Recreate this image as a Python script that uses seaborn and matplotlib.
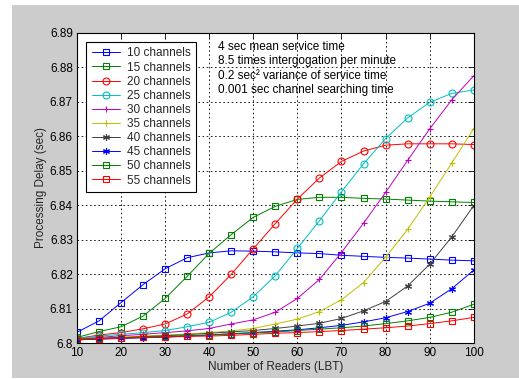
import matplotlib
matplotlib.use("Agg")
import matplotlib.pyplot as plt
import seaborn as sns
import numpy as np
from matplotlib.patches import Rectangle

readers = [10, 15, 20, 25, 30, 35, 40, 45, 50, 55, 60, 65, 70, 75, 80, 85, 90, 95, 100]

ch10 = [6.8032, 6.8065, 6.8118, 6.8170, 6.8216, 6.8248, 6.8262, 6.8268, 6.8267, 6.8265,
        6.8262, 6.8260, 6.8255, 6.8252, 6.8249, 6.8247, 6.8244, 6.8241, 6.8239]
ch15 = [6.8017, 6.8034, 6.8048, 6.8079, 6.8130, 6.8194, 6.8261, 6.8315, 6.8365, 6.8397,
        6.8417, 6.8423, 6.8423, 6.8420, 6.8418, 6.8415, 6.8412, 6.8410, 6.8408]
ch20 = [6.8014, 6.8024, 6.8031, 6.8042, 6.8056, 6.8085, 6.8135, 6.8200, 6.8274, 6.8347,
        6.8418, 6.8479, 6.8527, 6.8557, 6.8574, 6.8578, 6.8578, 6.8578, 6.8576]
ch25 = [6.8014, 6.8021, 6.8026, 6.8031, 6.8037, 6.8048, 6.8061, 6.8090, 6.8135, 6.8196,
        6.8275, 6.8355, 6.8439, 6.8520, 6.8593, 6.8653, 6.8698, 6.8724, 6.8734]
ch30 = [6.8012, 6.8017, 6.8022, 6.8026, 6.8031, 6.8036, 6.8043, 6.8056, 6.8068, 6.8090,
        6.8130, 6.8185, 6.8263, 6.8348, 6.8437, 6.8530, 6.8621, 6.8705, 6.8775]
ch35 = [6.8012, 6.8015, 6.8017, 6.8021, 6.8024, 6.8027, 6.8031, 6.8036, 6.8043, 6.8056,
        6.8070, 6.8092, 6.8126, 6.8176, 6.8249, 6.8330, 6.8423, 6.8522, 6.8622]
ch40 = [6.8012, 6.8014, 6.8017, 6.8019, 6.8022, 6.8025, 6.8029, 6.8033, 6.8037, 6.8043,
        6.8050, 6.8058, 6.8072, 6.8094, 6.8121, 6.8166, 6.8229, 6.8308, 6.8399]
ch45 = [6.8010, 6.8012, 6.8014, 6.8016, 6.8018, 6.8021, 6.8024, 6.8028, 6.8031, 6.8035,
        6.8039, 6.8045, 6.8052, 6.8062, 6.8074, 6.8092, 6.8116, 6.8158, 6.8212]
ch50 = [6.8012, 6.8014, 6.8016, 6.8018, 6.8020, 6.8022, 6.8024, 6.8027, 6.8030, 6.8033,
        6.8037, 6.8041, 6.8045, 6.8050, 6.8057, 6.8065, 6.8075, 6.8090, 6.8113]
ch55 = [6.8010, 6.8013, 6.8015, 6.8017, 6.8018, 6.8020, 6.8021, 6.8023, 6.8026, 6.8029,
        6.8031, 6.8034, 6.8037, 6.8041, 6.8045, 6.8050, 6.8057, 6.8065, 6.8075]

series = [ch10, ch15, ch20, ch25, ch30, ch35, ch40, ch45, ch50, ch55]
labels = ["10 channels", "15 channels", "20 channels", "25 channels", "30 channels",
          "35 channels", "40 channels", "45 channels", "50 channels", "55 channels"]
colors = [(0, 0, 1), (0, 0.5, 0), (1, 0, 0), (0, 0.75, 0.75), (0.75, 0, 0.75),
          (0.75, 0.75, 0), (0.25, 0.25, 0.25), (0, 0, 1), (0, 0.5, 0), (1, 0, 0)]
markers = ["s", "s", "o", "o", "+", "+", (6, 2, 0), (6, 2, 0), "s", "s"]

notes = ["4 sec mean service time",
         "8.5 times intergogation per minute",
         "0.2 sec\u00b2 variance of service time",
         "0.001 sec channel searching time"]

sns.set_theme(style="white")
plt.rcParams['font.family'] = ['Liberation Sans', 'DejaVu Sans']

fig = plt.figure(figsize=(5.19, 3.79), dpi=100)
fig.patch.set_facecolor("white")
fig.patches.append(Rectangle((12 / 519, 1 / 379), 1 - 12 / 519, (378 - 5) / 379,
                             transform=fig.transFigure, facecolor="#cccccc", edgecolor="none", zorder=-10))
ax = fig.add_axes([77 / 519, (379 - 343.3) / 379, (473.7 - 77) / 519, (343.3 - 32.7) / 379])
ax.set_facecolor("white")

for vals, lab, col, mk in zip(series, labels, colors, markers):
    sns.lineplot(x=readers, y=vals, ax=ax, color=col, marker=mk, label=lab,
                 linewidth=0.7, markersize=5, markerfacecolor="none",
                 markeredgecolor=col, markeredgewidth=0.8)

ax.set_xlim(10, 100)
ax.set_ylim(6.80, 6.89)
ax.set_xticks(np.arange(10, 101, 10))
yt = [6.80, 6.81, 6.82, 6.83, 6.84, 6.85, 6.86, 6.87, 6.88, 6.89]
ax.set_yticks(yt)
ax.set_yticklabels(["6.8", "6.81", "6.82", "6.83", "6.84", "6.85", "6.86", "6.87", "6.88", "6.89"])
ax.grid(True, color="black", linestyle=(0, (2, 3)), linewidth=0.6)
ax.tick_params(direction="in", top=True, right=True, length=4, labelsize=8.5,
               colors="black", pad=3, width=0.6)
for s in ax.spines.values():
    s.set_edgecolor("black")
    s.set_linewidth(0.8)
ax.set_xlabel("Number of Readers (LBT)", fontsize=8.5, labelpad=1)
ax.set_ylabel("Processing Delay (sec)", fontsize=8.5, labelpad=2)

leg = ax.legend(loc="upper left", fontsize=8.5, frameon=True, fancybox=False,
                edgecolor="black", framealpha=1, labelspacing=0.18,
                borderaxespad=0.8, handlelength=2.4, borderpad=0.45, handletextpad=0.6)
leg.get_frame().set_linewidth(0.8)

for i, t in enumerate(notes):
    ax.text(0.355, 0.955 - i * 0.047, t, transform=ax.transAxes, fontsize=8.5,
            va="center", ha="left", color="black")

fig.savefig("out.png", dpi=100, facecolor=fig.get_facecolor())
